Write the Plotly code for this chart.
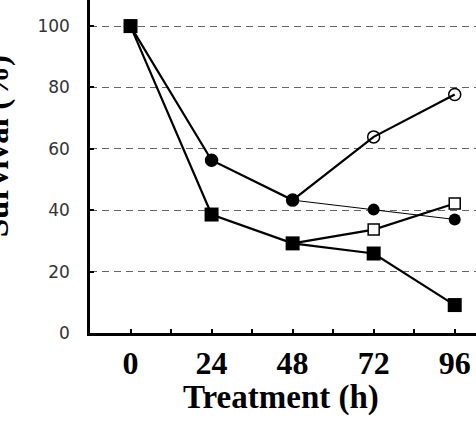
import plotly.graph_objects as go

hours = [0, 24, 48, 72, 96]
series_a = [100, 56.3, 43.3, 63.9, 77.7]
series_a_symbols = ["circle", "circle", "circle", "circle-open", "circle-open"]
hours_b = [48, 72, 96]
series_b = [43.3, 40.2, 37.0]
series_c = [100, 38.6, 29.2, 25.9, 9.1]
hours_d = [48, 72, 96]
series_d = [29.2, 33.7, 42.2]
x_ticks = [0, 24, 48, 72, 96]
y_ticks = [0, 20, 40, 60, 80, 100]

fig = go.Figure()
fig.add_trace(go.Scatter(
    x=hours, y=series_a, mode="lines+markers",
    line=dict(color="black", width=2.2),
    marker=dict(symbol=series_a_symbols, size=12, color="black",
                line=dict(color="black", width=1.5)),
))
fig.add_trace(go.Scatter(
    x=hours_b, y=series_b, mode="lines+markers",
    line=dict(color="black", width=1),
    marker=dict(symbol="circle", size=12, color="black"),
))
fig.add_trace(go.Scatter(
    x=hours_d, y=series_d, mode="lines+markers",
    line=dict(color="black", width=2.2),
    marker=dict(symbol="square", size=11, color="white",
                line=dict(color="black", width=1.5)),
))
fig.add_trace(go.Scatter(
    x=hours, y=series_c, mode="lines+markers",
    line=dict(color="black", width=2.2),
    marker=dict(symbol="square", size=14, color="black"),
))

fig.add_annotation(
    text="Survival (%)", xref="paper", yref="paper",
    x=-0.292, y=0.56, xanchor="left", yanchor="middle", textangle=-90,
    showarrow=False,
    font=dict(family="Liberation Serif", size=33, color="black", weight="bold"),
)
fig.add_annotation(
    text="Treatment (h)", xref="paper", yref="paper",
    x=0.495, y=-0.195, xanchor="center", yanchor="middle",
    showarrow=False,
    font=dict(family="Liberation Serif", size=33, color="black", weight="bold"),
)

fig.update_layout(
    width=476, height=423,
    margin=dict(l=90, r=0, t=0, b=90),
    plot_bgcolor="white", paper_bgcolor="white",
    showlegend=False,
    xaxis=dict(
        range=[-12, 102.3], tickvals=x_ticks, ticktext=[str(v) for v in x_ticks],
        showgrid=False, zeroline=False,
        showline=True, linecolor="black", linewidth=2.5,
        ticks="inside", ticklen=4, tickwidth=2, tickcolor="black",
        minor=dict(dtick=12, tick0=0, ticks="inside", ticklen=4, tickwidth=2, tickcolor="black"),
        tickfont=dict(family="Liberation Serif", size=32, color="black", weight="bold"),
        ticklabelstandoff=0,
    ),
    yaxis=dict(
        range=[0, 108.5], tickvals=y_ticks,
        showgrid=True, gridcolor="#666666", gridwidth=1, griddash="7px,5px",
        zeroline=False,
        showline=True, linecolor="black", linewidth=2.5,
        ticks="inside", ticklen=4, tickwidth=1.5, tickcolor="black",
        tickfont=dict(family="DejaVu Sans", size=17, color="#333333"),
        ticklabelstandoff=14,
    ),
)

fig.write_html("out.html")
